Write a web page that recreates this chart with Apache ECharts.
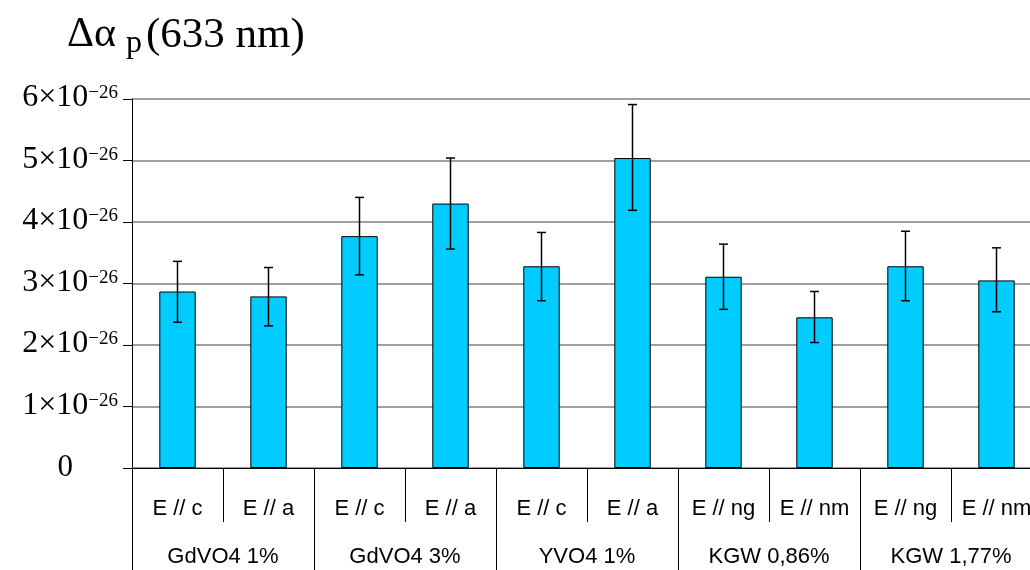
<!DOCTYPE html>
<html>
<head>
<meta charset="utf-8">
<script src="https://cdn.jsdelivr.net/npm/echarts@6/dist/echarts.min.js"></script>
<style>
html,body{margin:0;padding:0;background:#fff;overflow:hidden;width:1030px;height:570px;}
#chart{width:1042px;height:570px;}
</style>
</head>
<body>
<div id="chart"></div>
<script>
// Values in units of 1e-26
const subCategories = ['E // c','E // a','E // c','E // a','E // c','E // a','E // ng','E // nm','E // ng','E // nm'];
const groups = ['GdVO4 1%','GdVO4 3%','YVO4 1%','KGW 0,86%','KGW 1,77%'];
const values = [2.87, 2.79, 3.77, 4.30, 3.28, 5.04, 3.11, 2.45, 3.28, 3.05];
const errLow = [2.37, 2.31, 3.14, 3.56, 2.72, 4.19, 2.58, 2.04, 2.72, 2.54];
const errHigh = [3.36, 3.26, 4.40, 5.04, 3.83, 5.91, 3.64, 2.87, 3.85, 3.58];
const yTicks = [0, 1, 2, 3, 4, 5, 6];
const exponent = '\u221226';

const chart = echarts.init(document.getElementById('chart'));
const serif = '"Liberation Serif","Times New Roman",serif';
const sans = '"Liberation Sans",Arial,sans-serif';

const errData = values.map((v, i) => [i, errLow[i], errHigh[i]]);

chart.setOption({
  animation: false,
  title: {
    left: 62, top: 9,
    text: '{a|\u0394\u03b1}{p|p}{b|(633 nm)}',
    textStyle: {
      fontWeight: 'normal',
      rich: {
        a: {fontFamily: serif, fontSize: 42, fontWeight: 'normal', color: '#000', verticalAlign: 'top', lineHeight: 46},
        p: {fontFamily: serif, fontSize: 32, fontWeight: 'normal', color: '#000', verticalAlign: 'top', lineHeight: 46, padding: [14, 4, 0, 10]},
        b: {fontFamily: serif, fontSize: 43, fontWeight: 'normal', color: '#000', verticalAlign: 'top', lineHeight: 46}
      }
    }
  },
  grid: {left: 132, top: 99, bottom: 102, right: 0, containLabel: false},
  xAxis: [
    {
      type: 'category', data: subCategories, position: 'bottom',
      axisLine: {show: true, lineStyle: {color: '#000', width: 1}},
      axisTick: {show: true, length: 54, interval: 0, lineStyle: {color: '#000'}},
      axisLabel: {interval: 0, margin: 30, fontFamily: sans, fontSize: 22, color: '#000'},
      splitLine: {show: false}
    },
    {
      type: 'category', data: groups, position: 'bottom', offset: 0,
      axisLine: {show: false},
      axisTick: {show: true, length: 102, interval: 0, lineStyle: {color: '#000'}},
      axisLabel: {interval: 0, margin: 78, fontFamily: sans, fontSize: 22, color: '#000'},
      splitLine: {show: false}
    }
  ],
  yAxis: {
    type: 'value', min: 0, max: 6, interval: 1,
    axisLine: {show: true, lineStyle: {color: '#000'}},
    axisTick: {show: true, length: 9, lineStyle: {color: '#000'}},
    splitLine: {show: true, lineStyle: {color: '#808080', width: 1.5}},
    axisLabel: {
      margin: 14,
      formatter: function (v) {
        if (v === 0) return '{z|0}';
        return '{b|' + v + '\u00d710}{s|' + exponent + '}';
      },
      rich: {
        z: {fontFamily: serif, fontSize: 31, color: '#000', padding: [0, 45, 0, 0]},
        b: {fontFamily: serif, fontSize: 32, color: '#000', verticalAlign: 'bottom', lineHeight: 30, padding: [10, 0, 0, 0]},
        s: {fontFamily: serif, fontSize: 19, color: '#000', verticalAlign: 'top', lineHeight: 28}
      }
    }
  },
  series: [
    {
      type: 'bar', data: values, barWidth: '40%', xAxisIndex: 0,
      itemStyle: {color: '#00CCFF', borderColor: '#000', borderWidth: 1}
    },
    {
      type: 'custom', xAxisIndex: 0, data: errData, z: 10,
      renderItem: function (params, api) {
        const x = api.value(0);
        const lo = api.coord([x, api.value(1)]);
        const hi = api.coord([x, api.value(2)]);
        const hw = 4.5;
        const st = {stroke: '#000', lineWidth: 1.5};
        return {
          type: 'group',
          children: [
            {type: 'line', shape: {x1: hi[0], y1: hi[1], x2: lo[0], y2: lo[1]}, style: st},
            {type: 'line', shape: {x1: hi[0] - hw, y1: hi[1], x2: hi[0] + hw, y2: hi[1]}, style: st},
            {type: 'line', shape: {x1: lo[0] - hw, y1: lo[1], x2: lo[0] + hw, y2: lo[1]}, style: st}
          ]
        };
      }
    }
  ]
});
</script>
</body>
</html>
